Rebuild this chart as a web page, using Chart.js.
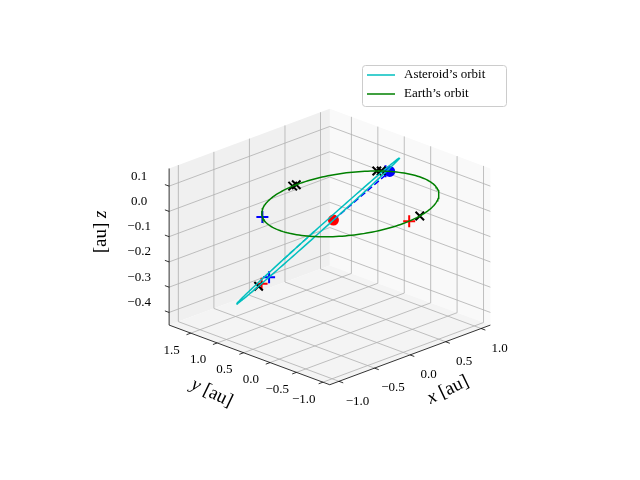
<!DOCTYPE html>
<html>
<head>
<meta charset="utf-8">
<script src="https://cdn.jsdelivr.net/npm/chart.js@4"></script>
<style>
  body { margin: 0; background: #fff; }
  #wrap { width: 640px; height: 480px; }
</style>
</head>
<body>
<div id="wrap"><canvas id="c"></canvas></div>
<script>
// axis ranges and ticks
const xLim = [-1.13, 1.13];
const yLim = [-1.13, 1.91];
const zLim = [-0.45, 0.17];
const xTicks = [-1.0, -0.5, 0.0, 0.5, 1.0];
const yTicks = [-1.0, -0.5, 0.0, 0.5, 1.0, 1.5];
const zTicks = [-0.4, -0.3, -0.2, -0.1, 0.0, 0.1];

// earth orbit: radius and centre (au)
const earthRadius = 1.0;
const earthCentre = [0, 0, 0.06];
// asteroid orbit: centre, semi-major vector, semi-minor vector (au)
const astCentre = [0.27, 0.97, -0.15];
const astMajor = [0.66, -0.65, 0.27];
const astMinor = [-0.56, -0.80, 0.118];

// marker positions, angles in degrees along each orbit
const earthCross = [91, 94, 33, 36, -75];   // black x on earth orbit
const earthBluePlus = [150, 30];
const earthRedPlus = [-85];
const earthNow = [27];                      // blue dot
const astCross = [139];
const astBluePlus = [129];
const astRedPlus = [136];
const astNow = [81];                        // red dot
const astDash = [-114, -89];                // dashed part of asteroid orbit

const elev = 22 * Math.PI / 180;
const S = 233, cx = 330, cy = 247;

function proj(x, y, z) {
    const xn = (x - (xLim[0] + xLim[1]) / 2) / (xLim[1] - xLim[0]);
    const yn = (y - (yLim[0] + yLim[1]) / 2) / (yLim[1] - yLim[0]);
    const zn = 0.75 * (z - (zLim[0] + zLim[1]) / 2) / (zLim[1] - zLim[0]);
    const px = cx + S * Math.SQRT1_2 * (xn - yn);
    const py = cy - S * (Math.sin(elev) * Math.SQRT1_2 * (xn + yn) + Math.cos(elev) * zn);
    return { x: px, y: py };
}

function earthAt(deg) {
    const t = deg * Math.PI / 180;
    return proj(earthCentre[0] + earthRadius * Math.cos(t), earthCentre[1] + earthRadius * Math.sin(t), earthCentre[2]);
}
function astAt(deg) {
    const t = deg * Math.PI / 180;
    const p = [0, 1, 2].map(i => astCentre[i] + astMajor[i] * Math.cos(t) + astMinor[i] * Math.sin(t));
    return proj(p[0], p[1], p[2]);
}
function sweep(fn, a0, a1) {
    const pts = [];
    for (let a = a0; a <= a1; a += 2) pts.push(fn(a));
    return pts;
}

const panes = {
    id: 'panes',
    beforeDatasetsDraw(chart) {
        const ctx = chart.ctx;
        const sx = chart.scales.x, sy = chart.scales.y;
        const P = (x, y, z) => { const p = proj(x, y, z); return [sx.getPixelForValue(p.x), sy.getPixelForValue(p.y)]; };
        const poly = (pts, col) => {
            ctx.beginPath();
            pts.forEach((p, i) => i ? ctx.lineTo(p[0], p[1]) : ctx.moveTo(p[0], p[1]));
            ctx.closePath();
            ctx.fillStyle = col;
            ctx.fill();
        };
        const [x0, x1] = xLim, [y0, y1] = yLim, [z0, z1] = zLim;
        ctx.save();
        poly([P(x1, y0, z0), P(x1, y1, z0), P(x1, y1, z1), P(x1, y0, z1)], '#f9f9f9');
        poly([P(x0, y1, z0), P(x1, y1, z0), P(x1, y1, z1), P(x0, y1, z1)], '#f0f0f0');
        poly([P(x0, y0, z0), P(x1, y0, z0), P(x1, y1, z0), P(x0, y1, z0)], '#f4f4f4');

        ctx.strokeStyle = '#b0b0b0';
        ctx.lineWidth = 0.8;
        const line = (a, b) => { ctx.beginPath(); ctx.moveTo(a[0], a[1]); ctx.lineTo(b[0], b[1]); ctx.stroke(); };
        xTicks.forEach(t => { line(P(t, y1, z0), P(t, y1, z1)); line(P(t, y0, z0), P(t, y1, z0)); });
        yTicks.forEach(t => { line(P(x1, t, z0), P(x1, t, z1)); line(P(x0, t, z0), P(x1, t, z0)); });
        zTicks.forEach(t => { line(P(x1, y0, t), P(x1, y1, t)); line(P(x0, y1, t), P(x1, y1, t)); });

        // axis lines and ticks
        ctx.strokeStyle = '#000';
        line(P(x0, y0, z0), P(x1, y0, z0));
        line(P(x0, y0, z0), P(x0, y1, z0));
        line(P(x0, y1, z0), P(x0, y1, z1));
        xTicks.forEach(t => line(P(t, y0, z0), P(t, y0 - 0.08, z0)));
        yTicks.forEach(t => line(P(x0, t, z0), P(x0 - 0.06, t, z0)));
        zTicks.forEach(t => line(P(x0, y1, t), P(x0, y1 + 0.08, t)));

        ctx.fillStyle = '#000';
        ctx.font = '13px "Liberation Serif"';
        ctx.textAlign = 'center';
        ctx.textBaseline = 'middle';
        const fmt = v => (v < 0 ? '\u2212' : '') + Math.abs(v).toFixed(1);
        xTicks.forEach(t => { const p = P(t, y0 - 0.35, z0); ctx.fillText(fmt(t), p[0], p[1] + 13); });
        yTicks.forEach(t => { const p = P(x0 - 0.27, t, z0); ctx.fillText(fmt(t), p[0], p[1] + 10); });
        zTicks.forEach(t => { const p = P(x0, y1, t); ctx.fillText(fmt(t), p[0] - 30, p[1] - 10); });

        const label = (name, x, y, rot, first) => {
            ctx.save(); ctx.translate(x, y); ctx.rotate(rot);
            ctx.textAlign = 'left';
            const it = 'italic 19px "Liberation Serif"', up = '19px "Liberation Serif"';
            const parts = first ? [[name, it], [' [au]', up]] : [['[au] ', up], [name, it]];
            let w = 0;
            parts.forEach(p => { ctx.font = p[1]; w += ctx.measureText(p[0]).width; });
            let xx = -w / 2;
            parts.forEach(p => { ctx.font = p[1]; ctx.fillText(p[0], xx, 0); xx += ctx.measureText(p[0]).width; });
            ctx.restore();
        };
        label('x', 448, 390, -0.45, true);
        label('y', 212, 393, 0.45, true);
        label('z', 101, 232, -Math.PI / 2, false);

        // legend
        ctx.fillStyle = 'rgba(255,255,255,0.85)';
        ctx.strokeStyle = '#cccccc';
        ctx.lineWidth = 1;
        ctx.beginPath();
        ctx.roundRect(362.5, 65.5, 144, 41, 3);
        ctx.fill(); ctx.stroke();
        ctx.lineWidth = 1.5;
        ctx.strokeStyle = '#00bfbf'; line([367, 75], [395, 75]);
        ctx.strokeStyle = '#008000'; line([367, 94], [395, 94]);
        ctx.fillStyle = '#000';
        ctx.font = '13px "Liberation Serif"';
        ctx.textAlign = 'left';
        ctx.fillText('Asteroid\u2019s orbit', 404, 75);
        ctx.fillText('Earth\u2019s orbit', 404, 94);
        ctx.restore();
    }
};

const lineSet = (data, color, dash) => ({
    data, showLine: true, borderColor: color, borderWidth: 1.5,
    borderDash: dash || [], pointRadius: 0, fill: false
});
const markSet = (data, style, color, r) => ({
    data, showLine: false, pointStyle: style, pointRadius: r || 6,
    borderColor: color, backgroundColor: color, borderWidth: 2
});

new Chart(document.getElementById('c'), {
    type: 'scatter',
    data: {
        datasets: [
            lineSet(sweep(earthAt, 0, 360), '#008000'),
            lineSet(sweep(astAt, 0, 360), '#00bfbf'),
            lineSet(sweep(astAt, astDash[0], astDash[1]), '#00bfbf', [6, 3]),
            lineSet([astAt(astNow[0]), earthAt(earthNow[0])], '#0000ff', [6, 3]),
            markSet(earthCross.map(earthAt).concat(astCross.map(astAt)), 'crossRot', '#000'),
            markSet(earthBluePlus.map(earthAt).concat(astBluePlus.map(astAt)), 'cross', '#0000ff'),
            markSet(earthRedPlus.map(earthAt).concat(astRedPlus.map(astAt)), 'cross', '#ff0000'),
            markSet(earthNow.map(earthAt), 'circle', '#0000ff', 4.5),
            markSet(astNow.map(astAt), 'circle', '#ff0000', 4.5)
        ]
    },
    options: {
        responsive: true,
        maintainAspectRatio: false,
        animation: false,
        layout: { padding: 0 },
        plugins: { legend: { display: false }, tooltip: { enabled: false } },
        scales: {
            x: { type: 'linear', min: 0, max: 640, display: false },
            y: { type: 'linear', min: 0, max: 480, reverse: true, display: false }
        }
    },
    plugins: [panes]
});
</script>
</body>
</html>
